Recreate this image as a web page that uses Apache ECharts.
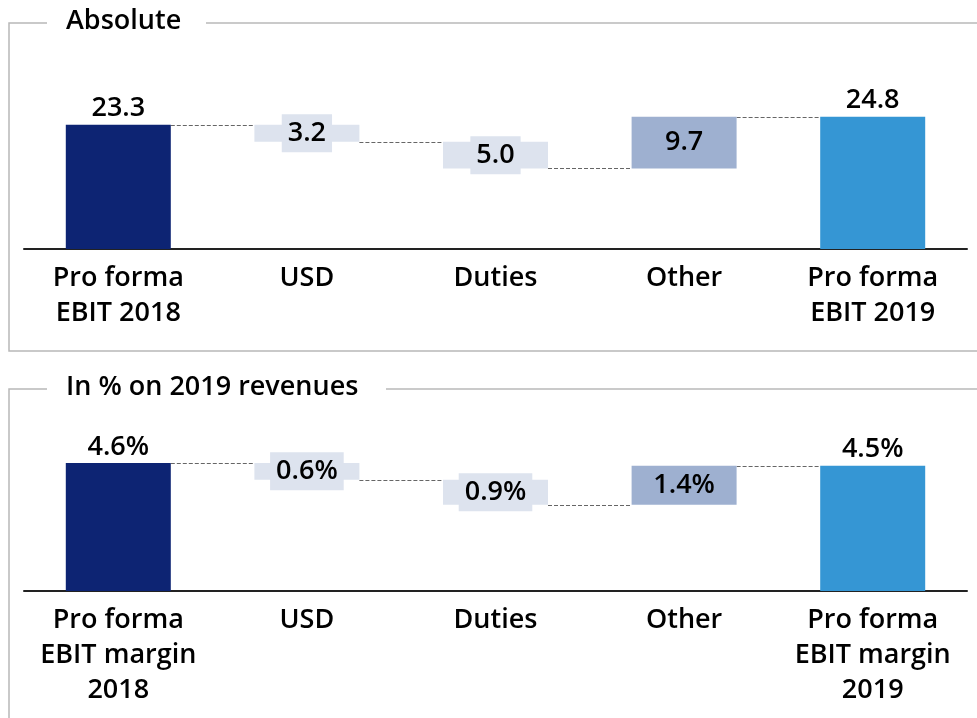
<!DOCTYPE html>
<html>
<head>
<meta charset="utf-8">
<script src="https://cdn.jsdelivr.net/npm/echarts@6/dist/echarts.min.js"></script>
<style>
  html, body { margin: 0; padding: 0; background: #fff; }
  #main { width: 977px; height: 718px; }
</style>
</head>
<body>
<div id="main"></div>
<script>
// data
const categoriesAbs = ["Pro forma\nEBIT 2018", "USD", "Duties", "Other", "Pro forma\nEBIT 2019"]
const categoriesPct = ["Pro forma\nEBIT margin\n2018", "USD", "Duties", "Other", "Pro forma\nEBIT margin\n2019"]
// first and last are totals, the rest are changes
const absoluteValues = [23.3, -3.2, -5.0, 9.7, 24.8]
const marginValues = [4.6, -0.6, -0.9, 1.4, 4.5]

const FONT = "'Open Sans', 'Noto Sans', sans-serif"
const FS = 27
const BAR_W = 105
const C_START = "#0d2473"
const C_END = "#3596d4"
const C_DOWN = "#dde3ee"
const C_UP = "#9eb0d0"

// build base / visible parts of a waterfall
function waterfall(values) {
    const base = [], visible = [], levels = []
    let run = 0
    values.forEach((v, i) => {
        const last = values.length - 1
        if (i === 0 || i === last) {
            base.push(0)
            visible.push({ value: v, itemStyle: { color: i === 0 ? C_START : C_END }, kind: "total" })
            run = v
        } else if (v < 0) {
            base.push(run + v)
            visible.push({ value: -v, itemStyle: { color: C_DOWN }, kind: "down" })
            run += v
        } else {
            base.push(run)
            visible.push({ value: v, itemStyle: { color: C_UP }, kind: "up" })
            run += v
        }
        if (i < last) levels.push([i, run])
    })
    return { base, visible, levels }
}

function makeSeries(values, idx, suffix) {
    const w = waterfall(values)
    const visible = w.visible.map((d) => {
        const lbl = d.kind === "total"
            ? { position: "top", distance: 2 }
            : {
                  position: "inside",
                  backgroundColor: d.kind === "down" ? C_DOWN : "transparent",
                  padding: [5, 6],
              }
        return { value: d.value, itemStyle: d.itemStyle, label: lbl }
    })
    return [
        {
            type: "bar",
            xAxisIndex: idx,
            yAxisIndex: idx,
            stack: "wf" + idx,
            barWidth: BAR_W,
            itemStyle: { color: "transparent" },
            emphasis: { disabled: true },
            data: w.base,
            silent: true,
        },
        {
            type: "bar",
            xAxisIndex: idx,
            yAxisIndex: idx,
            stack: "wf" + idx,
            barWidth: BAR_W,
            data: visible,
            label: {
                show: true,
                color: "#000",
                fontFamily: FONT,
                fontSize: FS,
                fontWeight: 600,
                lineHeight: 28,
                formatter: (p) => p.value.toFixed(1) + suffix,
            },
        },
        {
            type: "custom",
            xAxisIndex: idx,
            yAxisIndex: idx,
            silent: true,
            data: w.levels,
            renderItem: (params, api) => {
                const i = api.value(0)
                const lvl = api.value(1)
                const a = api.coord([i, lvl])
                const b = api.coord([i + 1, lvl])
                const y = Math.round(a[1]) + 0.5
                return {
                    type: "line",
                    shape: { x1: a[0] + BAR_W / 2, y1: y, x2: b[0] - BAR_W / 2, y2: y },
                    style: { stroke: "#666", lineWidth: 1, lineDash: [4, 2] },
                }
            },
        },
    ]
}

function xAxis(cats, idx) {
    return {
        type: "category",
        gridIndex: idx,
        data: cats,
        axisTick: { show: false },
        axisLine: { lineStyle: { color: "#222", width: 2 } },
        axisLabel: {
            color: "#000",
            fontFamily: FONT,
            fontSize: FS,
            fontWeight: 600,
            lineHeight: 35,
            margin: 12,
            interval: 0,
        },
    }
}

const frameStyle = { stroke: "#b8b8b8", lineWidth: 1.5, fill: null }

const myChart = echarts.init(document.getElementById("main"), null, { renderer: "canvas" })
const option = {
    animation: false,
    grid: [
        { left: 24, right: 10, top: 89, bottom: 469 },
        { left: 24, right: 10, top: 424, bottom: 127 },
    ],
    xAxis: [xAxis(categoriesAbs, 0), xAxis(categoriesPct, 1)],
    yAxis: [
        { type: "value", gridIndex: 0, min: 0, max: 30, show: false },
        { type: "value", gridIndex: 1, min: 0, max: 6, show: false },
    ],
    series: [...makeSeries(absoluteValues, 0, ""), ...makeSeries(marginValues, 1, "%")],
    graphic: [
        // panel frames
        { type: "polyline", shape: { points: [[47, 23], [9, 23], [9, 351], [977, 351]] }, style: frameStyle },
        { type: "line", shape: { x1: 206, y1: 23, x2: 977, y2: 23 }, style: frameStyle },
        { type: "polyline", shape: { points: [[47, 389], [9, 389], [9, 718]] }, style: frameStyle },
        { type: "line", shape: { x1: 386, y1: 389, x2: 977, y2: 389 }, style: frameStyle },
        {
            type: "text",
            left: 66,
            top: 8,
            style: { text: "Absolute", font: "600 " + FS + "px " + FONT, fill: "#000" },
        },
        {
            type: "text",
            left: 66,
            top: 374,
            style: { text: "In % on 2019 revenues", font: "600 " + FS + "px " + FONT, fill: "#000" },
        },
    ],
}
myChart.setOption(option)
</script>
</body>
</html>
